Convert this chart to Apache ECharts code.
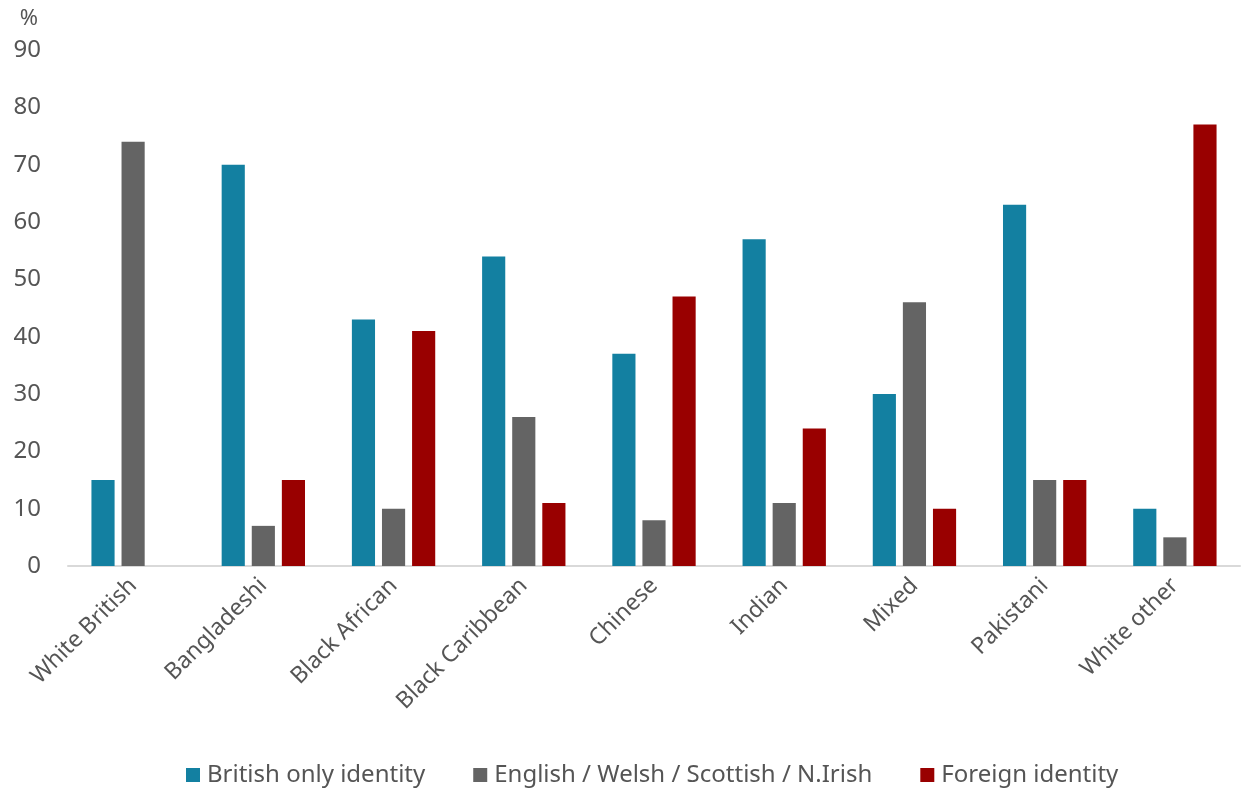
<!DOCTYPE html>
<html>
<head>
<meta charset="utf-8">
<script src="https://cdn.jsdelivr.net/npm/echarts@6/dist/echarts.min.js"></script>
<style>
  html, body { margin: 0; padding: 0; background: #fff; }
  #chart { width: 1248px; height: 790px; }
</style>
</head>
<body>
<div id="chart"></div>
<script>
const categories = ['White British', 'Bangladeshi', 'Black African', 'Black Caribbean', 'Chinese', 'Indian', 'Mixed', 'Pakistani', 'White other']
const britishOnly = [15, 70, 43, 54, 37, 57, 30, 63, 10]
const homeNation = [74, 7, 10, 26, 8, 11, 46, 15, 5]
const foreign = [null, 15, 41, 11, 47, 24, 10, 15, 77]
const seriesNames = ['British only identity', 'English / Welsh / Scottish / N.Irish', 'Foreign identity']

const chart = echarts.init(document.getElementById('chart'))
const font = '"Noto Sans", sans-serif'
const textColor = '#555555'

const mkBar = (name, data, color) => ({
  name,
  type: 'bar',
  data,
  barGap: '30%',
  barCategoryGap: '36%',
  itemStyle: { color },
})

chart.setOption({
  animation: false,
  textStyle: { fontFamily: font },
  grid: { left: 68, right: 8, top: 50, bottom: 224, containLabel: false },
  legend: {
    top: 758,
    left: 181,
    itemWidth: 14,
    itemHeight: 14,
    itemGap: 48,
    icon: 'rect',
    textStyle: { fontFamily: font, fontSize: 24, color: textColor, padding: [0, 0, 0, 2] },
    data: seriesNames,
  },
  xAxis: {
    type: 'category',
    data: categories,
    axisTick: { show: false },
    axisLine: { lineStyle: { color: '#d9d9d9', width: 2 } },
    axisLabel: {
      rotate: 45,
      interval: 0,
      margin: 16,
      fontSize: 23,
      color: textColor,
      fontFamily: font,
    },
  },
  yAxis: {
    type: 'value',
    min: 0,
    max: 90,
    interval: 10,
    name: '%',
    nameLocation: 'end',
    nameGap: 20,
    nameTextStyle: { fontSize: 22, color: textColor, fontFamily: font, align: 'right', padding: [0, 30, 0, 0] },
    splitLine: { show: false },
    axisLine: { show: false },
    axisTick: { show: false },
    axisLabel: { fontSize: 24, color: textColor, fontFamily: font, margin: 27 },
  },
  series: [
    mkBar(seriesNames[0], britishOnly, '#1380A1'),
    mkBar(seriesNames[1], homeNation, '#646464'),
    mkBar(seriesNames[2], foreign, '#990000'),
  ],
})
</script>
</body>
</html>
